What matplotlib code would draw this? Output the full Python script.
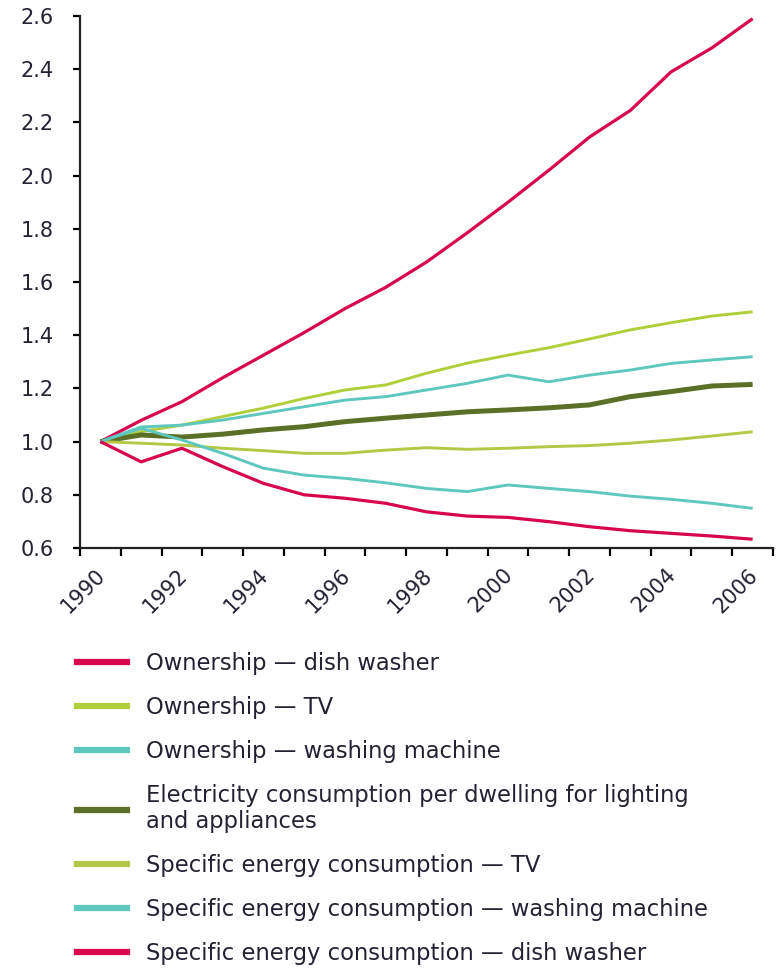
import matplotlib
matplotlib.use("Agg")
import matplotlib.pyplot as plt
import matplotlib.transforms as mtransforms
from matplotlib.lines import Line2D

years = list(range(1990, 2007))
own_dish = [1.00, 1.08, 1.15, 1.24, 1.325, 1.41, 1.50, 1.58, 1.675, 1.785, 1.90, 2.02, 2.145, 2.245, 2.39, 2.48, 2.59]
own_tv = [1.00, 1.038, 1.062, 1.094, 1.126, 1.162, 1.194, 1.213, 1.257, 1.295, 1.325, 1.353, 1.386, 1.42, 1.447, 1.472, 1.488]
own_wm = [1.00, 1.055, 1.062, 1.081, 1.106, 1.131, 1.156, 1.169, 1.194, 1.219, 1.25, 1.225, 1.25, 1.269, 1.294, 1.307, 1.319]
elec = [1.00, 1.025, 1.017, 1.028, 1.044, 1.056, 1.075, 1.088, 1.10, 1.112, 1.119, 1.127, 1.138, 1.169, 1.188, 1.209, 1.215]
sec_tv = [1.00, 0.994, 0.987, 0.975, 0.966, 0.956, 0.956, 0.968, 0.977, 0.971, 0.975, 0.981, 0.985, 0.994, 1.006, 1.021, 1.037]
sec_wm = [1.00, 1.05, 1.006, 0.956, 0.90, 0.874, 0.862, 0.845, 0.824, 0.812, 0.837, 0.824, 0.812, 0.795, 0.783, 0.768, 0.749]
sec_dish = [1.00, 0.924, 0.975, 0.906, 0.843, 0.80, 0.787, 0.768, 0.736, 0.72, 0.715, 0.699, 0.68, 0.665, 0.655, 0.645, 0.633]

labels = [
    "Ownership \u2014 dish washer",
    "Ownership \u2014 TV",
    "Ownership \u2014 washing machine",
    "Electricity consumption per dwelling for lighting\nand appliances",
    "Specific energy consumption \u2014 TV",
    "Specific energy consumption \u2014 washing machine",
    "Specific energy consumption \u2014 dish washer",
]
series = [own_dish, own_tv, own_wm, elec, sec_tv, sec_wm, sec_dish]
colors = ["#d7064e", "#b0cf3a", "#5ec8bf", "#5b6f26", "#b4c846", "#5ec8bf", "#d7064e"]
widths = [2.3, 2.1, 2.1, 3.6, 2.1, 2.1, 2.3]
yticks = [0.6, 0.8, 1.0, 1.2, 1.4, 1.6, 1.8, 2.0, 2.2, 2.4, 2.6]

plt.rcParams['font.family'] = ['DejaVu Sans']
txtcol = "#222233"

fig = plt.figure(figsize=(7.82, 9.68), dpi=100)
ax = fig.add_axes([80/782, 1-548/968, (773-80)/782, (548-16)/968])

for s, c, w in zip(series, colors, widths):
    ax.plot(years, s, color=c, lw=w, solid_joinstyle='round', solid_capstyle='butt')

ax.set_xlim(1989.5, 2006.5)
ax.set_ylim(0.6, 2.6)
ax.set_yticks(yticks)
ax.set_yticklabels([f"{v:.1f}" for v in yticks])
major = years[::2]
ax.set_xticks(major)
ax.set_xticklabels([str(y) for y in major], rotation=45, ha='right', va='top',
                   rotation_mode='anchor')
ax.set_xticks([1989.5 + k for k in range(18)], minor=True)
ax.tick_params(axis='x', which='major', length=0, pad=12, labelsize=15, labelcolor=txtcol)
ax.tick_params(axis='x', which='minor', length=6, width=1.6, direction='out')
ax.tick_params(axis='y', length=5, width=1.6, direction='out', pad=14, labelsize=15, labelcolor=txtcol)
offset = mtransforms.ScaledTranslation(-5/100, 0, fig.dpi_scale_trans)
for lab in ax.get_xticklabels():
    lab.set_transform(lab.get_transform() + offset)
for sp in ['top', 'right']:
    ax.spines[sp].set_visible(False)
for sp in ['left', 'bottom']:
    ax.spines[sp].set_linewidth(1.6)
    ax.spines[sp].set_color("#222222")

handles = [Line2D([0], [0], color=c, lw=4.5) for c in colors]
leg = fig.legend(handles, labels, loc='upper left', bbox_to_anchor=(77/782, 1-652/968),
                 frameon=False, fontsize=16.3, handlelength=2.2, handletextpad=0.85,
                 labelspacing=0.93, borderpad=0, borderaxespad=0, labelcolor=txtcol)
leg.get_texts()[3].set_linespacing(1.15)

fig.savefig("out.png", dpi=100)
